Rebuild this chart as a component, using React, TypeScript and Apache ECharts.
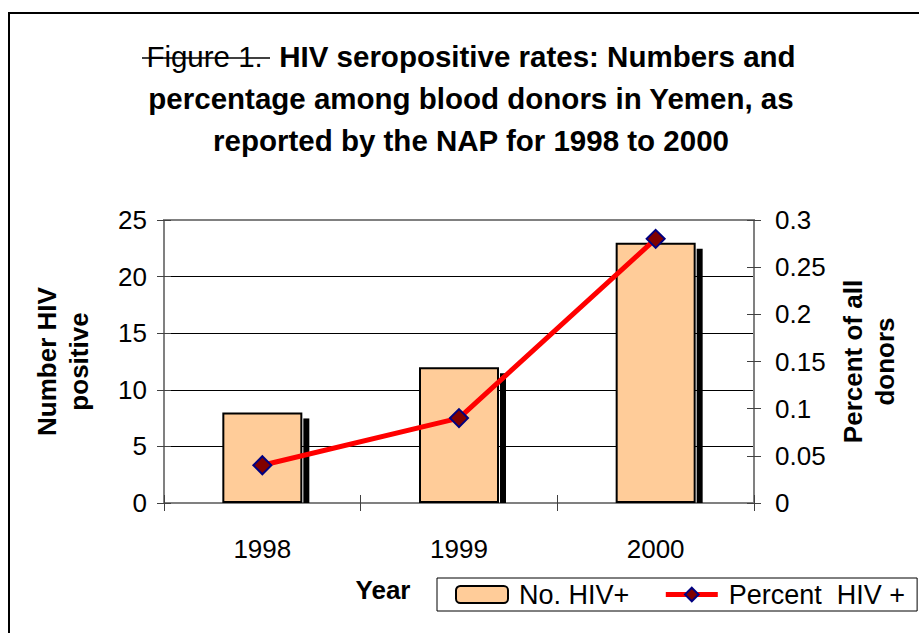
import React, { useEffect, useRef } from "react";
import * as echarts from "echarts";

const years = ["1998", "1999", "2000"];
const numberHIV = [8, 12, 23];
const percentHIV = [0.04, 0.09, 0.28];
const leftAxisRange = { min: 0, max: 25, interval: 5 };
const rightAxisRange = { min: 0, max: 0.3, interval: 0.05 };
const titleLines = [
  "HIV seropositive rates: Numbers and",
  "percentage among blood donors in Yemen, as",
  "reported by the NAP for 1998 to 2000",
];
const seriesNames = ["No. HIV+", "Percent  HIV +"];
const leftAxisName = "Number HIV\npositive";
const rightAxisName = "Percent of all\ndonors";
const xAxisName = "Year";

const FONT = "'Liberation Sans', Arial, Helvetica, sans-serif";
const BAR_W = 80;

export default function App() {
  const ref = useRef<HTMLDivElement>(null);
  useEffect(() => {
    if (!ref.current) return;
    const chart = echarts.init(ref.current, undefined, { renderer: "svg" });
    const tickLabel = { fontFamily: FONT, fontSize: 26, color: "#000" };
    const axisNameStyle = { fontFamily: FONT, fontSize: 26, fontWeight: "bold" as const, color: "#000", lineHeight: 32 };
    const gridBox = { left: 164, right: 165, top: 220, bottom: 130 };
    const tickStyle = { color: "#404040", width: 1 };
    const option: any = {
      animation: false,
      backgroundColor: "#fff",
      grid: [
        { ...gridBox, show: true, borderColor: "#808080", borderWidth: 2, backgroundColor: "transparent" },
        { ...gridBox, show: false },
      ],
      xAxis: [
        {
          type: "category",
          gridIndex: 0,
          data: years,
          position: "bottom",
          axisLine: { lineStyle: { color: "#808080", width: 2 } },
          axisTick: { show: true, length: 8, lineStyle: tickStyle },
          axisLabel: { ...tickLabel, margin: 33 },
        },
        {
          type: "category",
          gridIndex: 1,
          data: years,
          position: "bottom",
          axisLine: { show: false },
          axisTick: { show: true, inside: true, length: 8, lineStyle: tickStyle },
          axisLabel: { show: false },
        },
      ],
      yAxis: [
        {
          type: "value",
          gridIndex: 0,
          position: "left",
          ...leftAxisRange,
          axisLine: { show: true, lineStyle: { color: "#808080", width: 2 } },
          axisTick: { show: true, length: 7, lineStyle: tickStyle },
          axisLabel: { ...tickLabel, margin: 17 },
          splitLine: { show: true, showMinLine: false, showMaxLine: false, lineStyle: { color: "#000", width: 1 } },
          name: leftAxisName,
          nameLocation: "middle",
          nameRotate: 90,
          nameGap: 69,
          nameTextStyle: axisNameStyle,
        },
        {
          type: "value",
          gridIndex: 0,
          position: "right",
          ...rightAxisRange,
          axisLine: { show: true, lineStyle: { color: "#808080", width: 2 } },
          axisTick: { show: true, length: 7, lineStyle: tickStyle },
          axisLabel: { ...tickLabel, margin: 21 },
          splitLine: { show: false },
          name: rightAxisName,
          nameLocation: "middle",
          nameRotate: 90,
          nameGap: 78,
          nameTextStyle: axisNameStyle,
        },
        {
          type: "value",
          gridIndex: 1,
          position: "left",
          ...leftAxisRange,
          axisLine: { show: false },
          axisTick: { show: true, inside: true, length: 7, lineStyle: tickStyle },
          axisLabel: { show: false },
          splitLine: { show: false },
        },
        {
          type: "value",
          gridIndex: 1,
          position: "right",
          ...rightAxisRange,
          axisLine: { show: false },
          axisTick: { show: true, inside: true, length: 7, lineStyle: tickStyle },
          axisLabel: { show: false },
          splitLine: { show: false },
        },
      ],
      legend: {
        left: 437,
        top: 578,
        width: 520,
        padding: [3, 12, 3, 18],
        itemGap: 34,
        itemWidth: 52,
        itemHeight: 17,
        borderColor: "#000",
        borderWidth: 1,
        backgroundColor: "#fff",
        textStyle: { fontFamily: FONT, fontSize: 27, color: "#000", padding: [0, 0, 0, 6] },
        data: [
          { name: seriesNames[0] },
          { name: seriesNames[1], lineStyle: { width: 5, color: "#ff0000" } },
        ],
      },
      series: [
        {
          type: "custom",
          xAxisIndex: 0,
          yAxisIndex: 0,
          z: 1,
          silent: true,
          data: numberHIV.map((v, i) => [i, v]),
          renderItem: (params: any, api: any) => {
            const top = api.coord([api.value(0), api.value(1)]);
            const base = api.coord([api.value(0), 0]);
            return {
              type: "rect",
              shape: { x: top[0] + BAR_W / 2 + 1, y: top[1] + 6, width: 6, height: base[1] - top[1] - 6 },
              style: { fill: "#000" },
            };
          },
        },
        {
          name: seriesNames[0],
          type: "bar",
          xAxisIndex: 0,
          yAxisIndex: 0,
          z: 2,
          barWidth: BAR_W,
          data: numberHIV,
          itemStyle: { color: "#ffcc99", borderColor: "#000", borderWidth: 2 },
        },
        {
          name: seriesNames[1],
          type: "line",
          xAxisIndex: 0,
          yAxisIndex: 1,
          z: 3,
          data: percentHIV,
          lineStyle: { color: "#ff0000", width: 5 },
          itemStyle: { color: "#800000", borderColor: "#000080", borderWidth: 2 },
          symbol: "diamond",
          symbolSize: 18,
        },
      ],
      graphic: [
        {
          type: "rect",
          shape: { x: 9, y: 13, width: 2000, height: 2000 },
          style: { fill: "none", stroke: "#000", lineWidth: 2 },
          silent: true,
        },
        {
          type: "text",
          x: 471,
          y: 35,
          style: {
            text:
              "{a|Figure 1}{a|.  }{b|" + titleLines[0] + "}\n{b|" + titleLines[1] + "}\n{b|" + titleLines[2] + "}",
            align: "center",
            verticalAlign: "top",
            fill: "#000",
            rich: {
              a: { fontFamily: FONT, fontSize: 29.5, fontWeight: "normal", lineHeight: 42 },
              b: { fontFamily: FONT, fontSize: 29.5, fontWeight: "bold", lineHeight: 42 },
            },
          },
        },
        {
          type: "line",
          shape: { x1: 142, y1: 58, x2: 270, y2: 58 },
          style: { stroke: "#000", lineWidth: 1.5 },
        },
        {
          type: "text",
          x: 383,
          y: 590,
          style: {
            text: xAxisName,
            align: "center",
            verticalAlign: "middle",
            fontFamily: FONT,
            fontSize: 26,
            fontWeight: "bold",
            fill: "#000",
          },
        },
      ],
    };
    chart.setOption(option);
    return () => chart.dispose();
  }, []);
  return (
    <div
      ref={ref}
      style={{ position: "fixed", left: 0, top: 0, width: 919, height: 633, background: "#fff" }}
    />
  );
}
